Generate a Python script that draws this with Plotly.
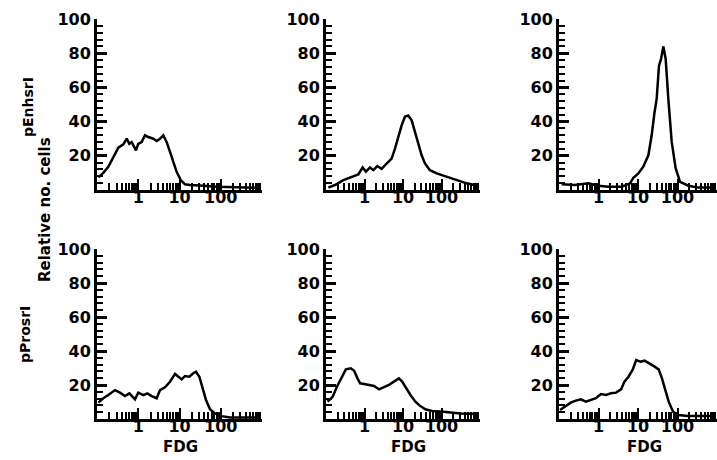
import plotly.graph_objects as go

# ---- data (FDG fluorescence, relative no. cells) ----
enh_a_fdg = [0.108, 0.142, 0.188, 0.249, 0.329, 0.435, 0.524, 0.608, 0.692, 0.881, 1.0, 1.21, 1.46, 1.75,
             2.32, 2.80, 3.37, 4.06, 4.89, 5.89, 7.08, 8.53, 10.7, 13.6, 18, 31, 80, 293, 900]
enh_a_cells = [7.4, 10, 13.5, 19.4, 24.8, 26.7, 30, 27, 28, 23.2, 27, 28, 32, 31,
               30, 28.7, 30, 32, 28, 22.3, 16.5, 10.6, 5.8, 3.3, 2.9, 2.7, 1.9, 1.4, 1.2]

enh_b_fdg = [0.115, 0.171, 0.282, 0.464, 0.69, 0.895, 1.09, 1.39, 1.70, 2.15, 2.79, 3.76, 5.07, 6.19, 7.56,
             9.22, 11.3, 13.7, 16.8, 20.5, 25, 30.5, 37.2, 50, 75, 136, 248, 451, 905]
enh_b_cells = [1.4, 2.9, 5.8, 7.8, 9.1, 13.2, 10.7, 13.2, 11.6, 14, 12.4, 15.5, 18.4, 24.2, 31,
               37.8, 43, 43.6, 40.7, 33.9, 27.1, 20.3, 15.5, 11.6, 9.7, 7.8, 5.8, 3.9, 2.3]

enh_c_fdg = [0.117, 0.254, 0.553, 0.99, 1.77, 3.86, 6.28, 7.63, 10.2, 13.6, 18.3, 22.2, 25.9, 29.7,
             34, 38.3, 43.8, 50.2, 58.6, 71.3, 90, 116, 188, 337, 891]
enh_c_cells = [3.3, 2.9, 3.9, 2.5, 1.9, 1.9, 3.9, 7.2, 9.7, 13.6, 20.3, 32, 44.6, 53.3,
               72.7, 76.6, 83.9, 76.6, 53.3, 28.1, 12.6, 4.8, 2.5, 1.4, 1.4]

pro_a_fdg = [0.108, 0.142, 0.188, 0.273, 0.361, 0.477, 0.608, 0.834, 1.0, 1.33, 1.66, 2.11, 2.80, 3.37,
             4.45, 5.89, 7.78, 9.37, 11.3, 13.6, 17.3, 21.6, 25.1, 30.3, 36.5, 43.9, 54.8, 72.6, 105,
             167, 425, 900]
pro_a_cells = [9.6, 12.2, 14.1, 17, 15.5, 13.5, 15.1, 11.6, 15.5, 14.1, 15.1, 13.5, 12.2, 17,
               18.6, 21.9, 26.5, 24.9, 23.3, 25.3, 24.9, 26.9, 27.8, 24.9, 18, 11.2, 5.7, 3.3, 1.7,
               0.9, 0.9, 0.9]

pro_b_fdg = [0.110, 0.149, 0.192, 0.244, 0.328, 0.442, 0.538, 0.656, 0.769, 0.975, 1.31, 1.77, 2.38,
             3.20, 4.31, 5.79, 7.80, 9.51, 12.3, 15.6, 21, 28.2, 38, 56.5, 113, 304, 904]
pro_b_cells = [10.2, 13.1, 19, 23.9, 29.2, 29.8, 28.4, 23.9, 21, 20.6, 20, 19.4, 17.4,
               18.6, 20, 22, 23.9, 22, 17.8, 14.1, 10.2, 7.6, 5.7, 4.7, 4.3, 3.3, 2.9]

pro_c_fdg = [0.106, 0.148, 0.198, 0.266, 0.356, 0.479, 0.641, 0.859, 1.15, 1.55, 2.07, 2.78, 3.73,
             4.53, 5.73, 7.39, 8.99, 11.6, 14.7, 19.6, 26.4, 33.3, 40.5, 49.2, 59.8, 77.2, 104, 186, 891]
pro_c_cells = [5.3, 7.6, 9.6, 10.8, 11.6, 10.2, 11.2, 12.2, 14.7, 14.1, 15.1, 15.5, 17.4,
               22, 24.9, 29.2, 34.7, 33.7, 34.3, 32.7, 30.8, 29.2, 23.9, 17, 10.2, 4.3, 2.4, 1.7, 1.7]

x_tick_vals = [0.1, 1, 10, 100, 1000]
x_tick_text = ["", "1", "10", "100", ""]
y_tick_vals = [20, 40, 60, 80, 100]
y_tick_text = ["20", "40", "60", "80", "100"]
row_labels = ["pEnhsrI", "pProsrI"]
y_title = "Relative no. cells"
x_title = "FDG"

panels = [
    (enh_a_fdg, enh_a_cells), (enh_b_fdg, enh_b_cells), (enh_c_fdg, enh_c_cells),
    (pro_a_fdg, pro_a_cells), (pro_b_fdg, pro_b_cells), (pro_c_fdg, pro_c_cells),
]

W, H = 717, 460
col_px = [(97, 262), (326, 480), (559, 717)]
row_px = [(19, 190), (249, 419)]  # (y of 100, y of 0) in pixels from top

FONT = "DejaVu Sans"
tickfont = dict(family=FONT, size=16, color="black", weight="bold")

minor_x = [k * 10 ** d for d in range(-1, 3) for k in range(2, 10)]

fig = go.Figure()
layout = dict(
    width=W, height=H, margin=dict(l=0, r=0, t=0, b=0, autoexpand=False),
    paper_bgcolor="white", plot_bgcolor="white", showlegend=False,
)

for i, (xs, ys) in enumerate(panels):
    r, c = divmod(i, 3)
    n = i + 1
    xa = "xaxis" if n == 1 else f"xaxis{n}"
    ya = "yaxis" if n == 1 else f"yaxis{n}"
    xr = "x" if n == 1 else f"x{n}"
    yr = "y" if n == 1 else f"y{n}"
    fig.add_trace(go.Scatter(x=xs, y=ys, mode="lines", xaxis=xr, yaxis=yr,
                             line=dict(color="black", width=2.5), hoverinfo="skip"))
    x0, x1 = col_px[c]
    ytop, ybot = row_px[r]
    layout[xa] = dict(
        type="log", range=[-1, 3], domain=[x0 / W, x1 / W], anchor=yr,
        showline=True, linecolor="black", linewidth=3, showgrid=False, zeroline=False,
        tickmode="array", tickvals=x_tick_vals, ticktext=x_tick_text,
        ticks="inside", ticklen=11, tickwidth=2, tickcolor="black", tickfont=tickfont,
        ticklabelstandoff=-9,
        minor=dict(tickvals=minor_x, ticks="inside", ticklen=7, tickwidth=1.5, tickcolor="black"),
    )
    layout[ya] = dict(
        range=[0, 100], domain=[1 - ybot / H, 1 - ytop / H], anchor=xr,
        showline=True, linecolor="black", linewidth=3, showgrid=False, zeroline=False,
        tickmode="array", tickvals=y_tick_vals, ticktext=y_tick_text,
        ticks="inside", ticklen=10, tickwidth=2.5, tickcolor="black", tickfont=tickfont,
        minor=dict(dtick=4, ticks="inside", ticklen=6, tickwidth=2, tickcolor="black"),
    )

ann_font = dict(family=FONT, size=14, color="black", weight="bold")
annotations = [
    dict(text=row_labels[0], x=28 / W, y=1 - 107 / H, textangle=-90),
    dict(text=row_labels[1], x=25 / W, y=1 - 335 / H, textangle=-90),
    dict(text=y_title, x=45 / W, y=1 - 210 / H, textangle=-90, font=dict(size=15)),
    dict(text=x_title, x=180 / W, y=1 - 447 / H, font=dict(size=15)),
    dict(text=x_title, x=408 / W, y=1 - 447 / H, font=dict(size=15)),
    dict(text=x_title, x=644 / W, y=1 - 447 / H, font=dict(size=15)),
]
for a in annotations:
    f = dict(ann_font)
    f.update(a.get("font", {}))
    a.update(xref="paper", yref="paper", showarrow=False, font=f,
             xanchor="center", yanchor="middle")
layout["annotations"] = annotations

fig.update_layout(**layout)
fig.write_html("out.html", config={"displayModeBar": False},
               post_script="document.body.style.margin='0';document.body.style.overflow='hidden';")
